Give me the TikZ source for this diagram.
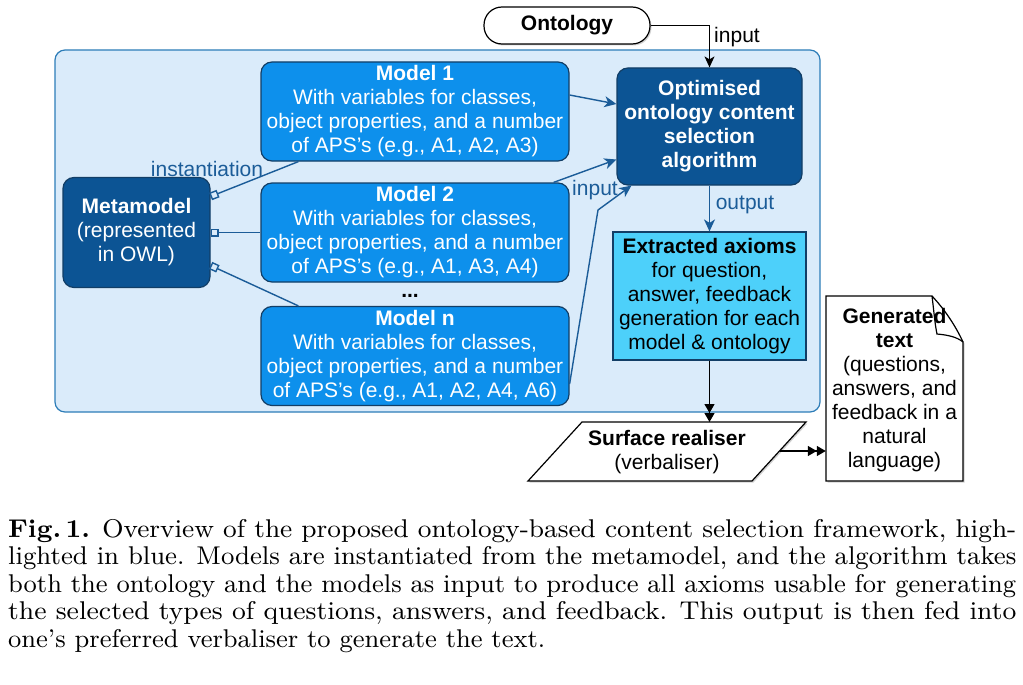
\documentclass[tikz,border=0pt]{standalone}
\usepackage{fontspec}
\usepackage{graphicx}
\newfontfamily\hv{Liberation Sans}
\usetikzlibrary{arrows.meta,calc,shadows}
\definecolor{bgblue}{HTML}{DAEBFA}
\definecolor{bgline}{HTML}{2D7DB8}
\definecolor{modelblue}{HTML}{0D90EC}
\definecolor{darkblue}{HTML}{0C5494}
\definecolor{cyanbox}{HTML}{4DD0FA}
\definecolor{edgeline}{HTML}{123E66}
\definecolor{connblue}{HTML}{1B5C98}
\newlength\capw
\newcommand\capfont{\rmfamily\fontsize{9}{11}\selectfont}
\newcommand\capA{\textbf{Fig.\,1.} Overview of the proposed ontology-based content selection framework, high-}
\newcommand\capB{lighted in blue. Models are instantiated from the metamodel, and the algorithm takes}
\newcommand\capC{both the ontology and the models as input to produce all axioms usable for generating}
\newcommand\capD{the selected types of questions, answers, and feedback. This output is then fed into}
\newcommand\capE{one's preferred verbaliser to generate the text.}
\newcommand\capvs{2.85}
\newcommand\capline[1]{\resizebox{1008pt}{\capvs\height}{\capfont #1}}
\begin{document}
\settowidth\capw{\capfont\capC}%
\pgfmathsetmacro\capfx{1008pt/\capw}%
\begin{tikzpicture}[x=1pt,y=-1pt,
  every node/.style={font=\hv\fontsize{21}{24}\selectfont, align=center, inner sep=0pt},
  modelbox/.style={draw=edgeline, line width=1.2pt, fill=modelblue, rounded corners=11pt, text=white, minimum width=308pt, minimum height=99pt},
  darkbox/.style={draw=edgeline, line width=1.2pt, fill=darkblue, rounded corners=11pt, text=white},
  conn/.style={draw=connblue, line width=1.4pt},
  bluearrow/.style={conn, -{Stealth[length=12pt,width=11pt,inset=3.5pt]}},
  inst/.style={conn, {Square[length=8pt,width=8pt,fill=bgblue]}-},
  blackarrow/.style={draw=black, line width=1.2pt, -{Triangle[length=9pt,width=10pt,sep=0pt]Triangle[length=9pt,width=10pt]}},
  lbl/.style={text=connblue},
  myshadow/.style={drop shadow={shadow xshift=1.5pt, shadow yshift=-1.5pt, opacity=0.3, fill=black!60}},
  capnode/.style={anchor=base west}
]
\useasboundingbox (0,0) rectangle (1023,685);

% highlighted container
\node[draw=bgline, fill=bgblue, rounded corners=10pt, line width=1.2pt, minimum width=765pt, minimum height=362pt] (bg) at (437.5,231) {};

% ontology
\node[draw=black, fill=white, rounded corners=18pt, minimum width=166pt, minimum height=37pt, line width=1.2pt, myshadow] (onto) at (567,25.5) {\textbf{Ontology}};

% models
\node[modelbox] (m1) at (415,111.5) {\textbf{Model 1}\\With variables for classes,\\object properties, and a number\\of APS’s (e.g., A1, A2, A3)};
\node[modelbox] (m2) at (415,232.5) {\textbf{Model 2}\\With variables for classes,\\object properties, and a number\\of APS’s (e.g., A1, A3, A4)};
\node (dots) at (410,296) {\textbf{...}};
\node[modelbox] (mn) at (415,356) {\textbf{Model n}\\With variables for classes,\\object properties, and a number\\of APS’s (e.g., A1, A2, A4, A6)};

% metamodel
\node[darkbox, minimum width=147pt, minimum height=110pt] (meta) at (136.5,232.5) {\textbf{Metamodel}\\(represented\\in OWL)};

% algorithm
\node[darkbox, minimum width=185pt, minimum height=117pt] (alg) at (709.5,126.5) {\textbf{Optimised}\\\textbf{ontology content}\\\textbf{selection}\\\textbf{algorithm}};

% extracted axioms
\node[draw=edgeline, fill=cyanbox, line width=1.2pt, minimum width=193pt, minimum height=128pt] (ext) at (709.5,296) {\textbf{Extracted axioms}\\for question,\\answer, feedback\\generation for each\\model \& ontology};

% surface realiser (parallelogram)
\draw[line width=1.2pt, fill=white, myshadow] (582,422) -- (806,422) -- (752,481) -- (528,481) -- cycle;
\node (sr) at (667,452) {\textbf{Surface realiser}\\(verbaliser)};
\coordinate (srtop) at (709.5,422);
\coordinate (srright) at (779.5,451);

% generated text (document)
\draw[line width=1.2pt, fill=white, myshadow] (826,296) -- (932,296) .. controls (945,310) and (955,325) .. (963,342) -- (963,481) -- (826,481) -- cycle;
\draw[line width=1.2pt] (932,296) .. controls (934,312) and (935,325) .. (937,334) .. controls (948,335) and (957,337) .. (963,342);
\node[minimum width=137pt, minimum height=185pt] (gen) at (894.5,390) {\textbf{Generated}\\\textbf{text}\\(questions,\\answers, and\\feedback in a\\natural\\language)};

% connectors
\draw[black, line width=1.2pt, -{Stealth[length=11pt,width=10pt,inset=3pt]}] (onto.east) -| (alg.north);
\node (inlbl1) at (737,37) {input};

\draw[bluearrow] ($(m1.east)+(0,-16.5)$) -- ($(alg.west)+(0,-22.5)$);
\draw[bluearrow] ($(m2.north east)+(-16,0)$) -- ($(alg.west)+(0,33)$);
\coordinate (bend) at (598,210);
\draw[bluearrow] ($(mn.east)+(0,28)$) -- (bend) -- ($(alg.south west)+(15,0)$);
\node[lbl] (inlbl2) at (595,190) {input};

\draw[bluearrow] (alg.south) -- (ext.north);
\node[lbl] (outlbl) at (745,205) {output};

\draw[inst] ($(meta.east)+(0,-36)$) -- ($(m1.south west)+(38,0)$);
\draw[inst] (meta.east) -- (m2.west);
\draw[inst] ($(meta.east)+(0,33)$) -- ($(mn.north west)+(38,0)$);
\node[lbl] (instlbl) at (207,169) {instantiation};

\draw[blackarrow] (ext.south) -- (srtop);
\draw[blackarrow] (srright) -- (srright -| gen.west);

% caption
\node[capnode] (cap1) at (8,537) {\capline{\capA}};
\node[capnode] (cap2) at (8,564.5) {\capline{\capB}};
\node[capnode] (cap3) at (8,592) {\capline{\capC}};
\node[capnode] (cap4) at (8,619.5) {\capline{\capD}};
\node[capnode] (cap5) at (8,647) {\scalebox{\capfx}[\capvs]{\capfont\capE}};
\end{tikzpicture}
\end{document}
